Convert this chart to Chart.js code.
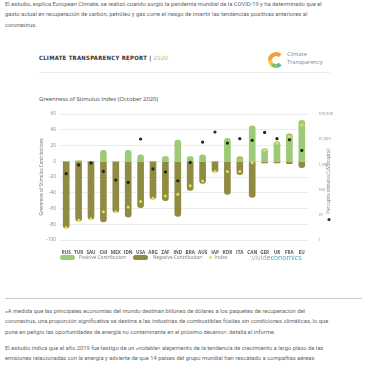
<!DOCTYPE html>
<html>
<head>
<meta charset="utf-8">
<script src="https://cdn.jsdelivr.net/npm/chart.js@4.4.0/dist/chart.umd.min.js"></script>
<style>
  html, body { margin: 0; padding: 0; background: #fff; }
  body { width: 367px; height: 367px; overflow: hidden; position: relative; font-family: Roboto, sans-serif; }
  .para { position: absolute; left: 5px; font-size: 5.8px; line-height: 10.4px; color: #666; white-space: nowrap; }
  .abs { position: absolute; white-space: nowrap; }
  #chartWrap { position: absolute; left: 36px; top: 104px; }
  .pill { position: absolute; width: 15px; height: 5px; border-radius: 3px; }
  .leg { position: absolute; font-size: 4.8px; color: #777; font-family: "Open Sans", sans-serif; }
</style>
</head>
<body>
<div class="para" style="top:-1px">El estudio, explica European Climate, se realizó cuando surgió la pandemia mundial de la COVID-19 y ha determinado que el<br>gasto actual en recuperación de carbón, petróleo y gas corre el riesgo de invertir las tendencias positivas anteriores al<br>coronavirus.</div>

<div class="abs" style="left:39px;top:55px;font-family:'DejaVu Sans Condensed',sans-serif;font-weight:bold;font-size:5.9px;color:#333;letter-spacing:0.3px">CLIMATE TRANSPARENCY REPORT | <span style="color:#a5c45c;font-weight:normal">2020</span></div>
<svg class="abs" style="left:267px;top:51px" width="18" height="18" viewBox="0 0 18 18">
  <g fill="none" stroke-width="4">
    <path d="M13.2 4.8 A6 6 0 0 0 3 9" stroke="#f2a23a"/>
    <path d="M3 9 A6 6 0 0 0 5 13.5" stroke="#f5c84a"/>
    <path d="M5 13.5 A6 6 0 0 0 9.5 15" stroke="#8cc152"/>
    <path d="M9.5 15 A6 6 0 0 0 13.2 13.2" stroke="#5bb8a0"/>
  </g>
</svg>
<div class="abs" style="left:287px;top:51px;font-size:5.6px;line-height:7.8px;color:#6f8a8f;font-family:'Open Sans',sans-serif">Climate<br>Transparency</div>
<div class="abs" style="left:39px;top:72px;width:291px;height:1px;background:#ececec"></div>
<div class="abs" style="left:39px;top:95px;font-size:5.8px;color:#444;font-family:'Open Sans',sans-serif">Greenness of Stimulus Index (October 2020)</div>

<div id="chartWrap"><canvas id="chart" width="298" height="150"></canvas></div>

<div class="pill" style="left:60px;top:255px;background:#9dca78"></div>
<div class="leg" style="left:79px;top:254px">Positive Contribution</div>
<div class="pill" style="left:133px;top:255px;background:#8f8b43"></div>
<div class="leg" style="left:153px;top:254px">Negative Contribution</div>
<div class="abs" style="left:209px;top:256px;width:3px;height:3px;border-radius:50%;background:#e4e05a"></div>
<div class="leg" style="left:215px;top:254px">Index</div>
<div class="abs" style="left:250px;top:252px;font-size:7.2px;font-family:'Open Sans',sans-serif;letter-spacing:-0.1px"><span style="color:#aaa">:vivid</span><span style="color:#4aa6c4">economics</span></div>

<div class="abs" style="left:5px;top:298px;width:357px;height:1px;background:#c8c8c8"></div>

<div class="para" style="top:306px">«A medida que las principales economías del mundo destinan billones de dólares a los paquetes de recuperación del<br>coronavirus, una proporción significativa se destina a las industrias de combustibles fósiles sin condiciones climáticas, lo que<br>pone en peligro las oportunidades de energía no contaminante en el próximo decenio», detalla el informe.</div>
<div class="para" style="top:343px">El estudio indica que el año 2019 fue testigo de un «notable» alejamiento de la tendencia de crecimiento a largo plazo de las<br>emisiones relacionadas con la energía y advierte de que 14 países del grupo mundial han rescatado a compañías aéreas<br>sin exigir condiciones climáticas.</div>

<script>
// --- Data ---
const categories = ['RUS', 'TUR', 'SAU', 'CHI', 'MEX', 'IDN', 'USA', 'ARG', 'ZAF', 'IND', 'BRA', 'AUS', 'JAP', 'KOR', 'ITA', 'CAN', 'GER', 'UK', 'FRA', 'EU'];
const positiveContribution = [0, 1, 0, 14, 0, 14, 8, 0, 6, 27, 6, 8, 0, 29, 6, 45, 16, 25, 35, 52];
const negativeContribution = [-85, -76, -74, -77, -65, -71, -59, -48, -50, -70, -37, -28, -14, -42, -17, -46, -2, -2, -3, -8];
const indexValues = [-84, -75, -73, -64, -64, -58, -51, -47, -44, -42, -31, -25, -13, -13, -13, -2, 14, 23, 31, 46];
const perCapitaStimulus = [430, 950, 1140, 525, 240, 193, 10200, 660, 500, 225, 1200, 7700, 19300, 7000, 10500, 9000, 18600, 10500, 9600, 3600];
const leftTicks = [60, 40, 20, 0, -20, -40, -60, -80, -100];
const rightTicks = [1, 10, 100, 1000, 10000, 100000];

// right axis title reads bottom-to-top, drawn by hand
const rightTitle = {
    id: 'rightTitle',
    afterDraw(chart) {
        const ctx = chart.ctx;
        ctx.save();
        ctx.translate(293, 80);
        ctx.rotate(-Math.PI / 2);
        ctx.font = '4.4px "Open Sans", sans-serif';
        ctx.fillStyle = '#777';
        ctx.textAlign = 'center';
        ctx.textBaseline = 'middle';
        ctx.fillText('Per capita stimulus (USD/capita)', 3, 0);
        ctx.fillStyle = '#222';
        ctx.beginPath();
        ctx.arc(-35.5, 0, 1.5, 0, Math.PI * 2);
        ctx.fill();
        ctx.restore();
    }
};

const ctx = document.getElementById('chart').getContext('2d');
new Chart(ctx, {
    type: 'bar',
    data: {
        labels: categories,
        datasets: [
            {
                label: 'Positive Contribution',
                data: positiveContribution,
                backgroundColor: '#9dca78',
                barThickness: 6,
                borderRadius: 3,
                borderSkipped: 'start',
                grouped: false,
                order: 3
            },
            {
                label: 'Negative Contribution',
                data: negativeContribution,
                backgroundColor: '#8f8b43',
                barThickness: 6,
                borderRadius: 3,
                borderSkipped: 'start',
                grouped: false,
                order: 3
            },
            {
                type: 'line',
                label: 'Index',
                data: indexValues,
                showLine: false,
                pointRadius: 1.5,
                pointBackgroundColor: '#e4e05a',
                pointBorderWidth: 0,
                order: 1
            },
            {
                type: 'line',
                label: 'Per capita stimulus',
                data: perCapitaStimulus,
                yAxisID: 'y2',
                showLine: false,
                pointRadius: 1.6,
                pointBackgroundColor: '#222',
                pointBorderWidth: 0,
                order: 2
            }
        ]
    },
    options: {
        responsive: false,
        animation: false,
        layout: { padding: { top: 10, left: 0, right: 0, bottom: 0 } },
        plugins: {
            legend: { display: false },
            tooltip: { enabled: false }
        },
        scales: {
            x: {
                grid: { display: false },
                border: { display: false },
                afterFit(scale) { scale.height = 14; },
                ticks: {
                    autoSkip: false,
                    maxRotation: 0,
                    padding: 2,
                    color: '#555',
                    font: { size: 4.6, weight: 'bold', family: '"Open Sans", sans-serif' }
                }
            },
            y: {
                min: -100,
                max: 60,
                afterFit(scale) { scale.width = 24; },
                afterBuildTicks(scale) { scale.ticks = leftTicks.map(v => ({ value: v })); },
                grid: { color: '#ececec', drawTicks: false },
                border: { display: false },
                title: {
                    display: true,
                    text: 'Greenness of Stimulus Contributions',
                    color: '#666',
                    padding: { top: 3, bottom: 0 },
                    font: { size: 4.5, family: '"Open Sans", sans-serif' }
                },
                ticks: {
                    padding: 4,
                    color: '#888',
                    font: { size: 4.8, family: '"Open Sans", sans-serif' }
                }
            },
            y2: {
                type: 'logarithmic',
                position: 'right',
                min: 1,
                max: 100000,
                afterFit(scale) { scale.width = 26; },
                afterBuildTicks(scale) { scale.ticks = rightTicks.map(v => ({ value: v })); },
                grid: { display: false },
                border: { display: false },
                ticks: {
                    padding: 2,
                    color: '#888',
                    font: { size: 4.1, family: '"Open Sans", sans-serif' },
                    callback: function(value) {
                        return Number(value).toLocaleString('en-US');
                    }
                }
            }
        }
    },
    plugins: [rightTitle]
});
</script>
</body>
</html>
